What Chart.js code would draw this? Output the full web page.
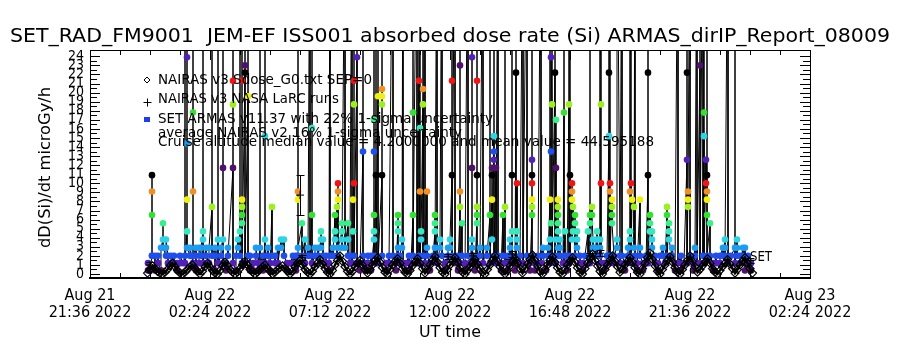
<!DOCTYPE html>
<html>
<head>
<meta charset="utf-8">
<script src="https://cdn.jsdelivr.net/npm/chart.js@4/dist/chart.umd.min.js"></script>
<style>
  html, body { margin: 0; padding: 0; background: #fff; }
  #wrap { width: 900px; height: 350px; }
</style>
</head>
<body>
<div id="wrap"><canvas id="doseChart" width="900" height="350"></canvas></div>
<script>
"use strict";

var TITLE = "SET_RAD_FM9001  JEM-EF ISS001 absorbed dose rate (Si) ARMAS_dirIP_Report_08009";
var Y_TITLE = "dD(Si)/dt microGy/h";
var X_TITLE = "UT time";
var legendLines = [
    "NAIRAS v3 Sdose_G0.txt SEP=0",
    "NAIRAS v3 NASA LaRC runs",
    "SET ARMAS v11.37 with 22% 1-sigma uncertainty",
    "average NAIRAS v2 16% 1-sigma uncertainty",
    "Cruise altitude median value = 4.2000000 and mean value = 44.595188"
];
var endLabel = "SET";

// time axis: hours from Aug 22 00:00 UT
var xTickHours = [-2.4, 2.4, 7.2, 12, 16.8, 21.6, 26.4];
var xTickLabels = [
    ["Aug 21", "21:36 2022"],
    ["Aug 22", "02:24 2022"],
    ["Aug 22", "07:12 2022"],
    ["Aug 22", "12:00 2022"],
    ["Aug 22", "16:48 2022"],
    ["Aug 22", "21:36 2022"],
    ["Aug 23", "02:24 2022"]
];
var yTickValues = [0, 1, 2, 3, 4, 5, 6, 7, 8, 9, 10, 11, 12, 13, 14, 15, 16, 17, 18, 19, 20, 21, 22, 23, 24];

// NAIRAS v3 model, one value every 6 minutes
var nairasStart = -0.1;
var nairasStep = 0.1;
var nairasDose = [
    0.1, 0.5, 0.9, 0.6, 0.3, 0.1, 0.0, 0.2, 0.5, 0.9, 1.2, 0.8, 0.4, 0.1, 0.0, 0.2, 0.5, 0.8, 1.0, 0.6,
    0.3, 0.0, 0.3, 0.8, 1.2, 0.8, 0.4, 0.1, 0.0, 0.4, 0.9, 1.3, 0.9, 0.5, 0.2, 0.0, 0.2, 0.6, 1.0, 1.4,
    1.0, 0.5, 0.2, 0.0, 0.2, 0.5, 0.8, 1.0, 0.6, 0.3, 0.0, 0.2, 0.5, 0.7, 0.9, 0.6, 0.3, 0.0, 0.3, 0.8,
    1.2, 1.5, 1.0, 0.5, 0.2, 0.0, 0.3, 0.8, 1.2, 1.6, 1.1, 0.6, 0.2, 0.0, 0.4, 1.0, 1.5, 2.0, 1.4, 0.8,
    0.3, 0.0, 0.3, 0.8, 1.2, 1.5, 1.0, 0.5, 0.1, 0.5, 1.0, 1.5, 1.8, 1.3, 0.7, 0.2, 0.0, 0.5, 1.0, 1.4,
    1.7, 1.2, 0.6, 0.2, 0.0, 0.4, 0.9, 1.3, 1.7, 1.2, 0.6, 0.1, 0.5, 1.0, 1.5, 1.9, 1.3, 0.7, 0.2, 0.0,
    0.5, 1.0, 1.4, 1.8, 1.3, 0.7, 0.2, 0.0, 0.4, 0.8, 1.2, 1.6, 1.1, 0.6, 0.2, 0.0, 0.5, 1.0, 1.5, 2.0,
    1.4, 0.8, 0.3, 0.0, 0.4, 0.9, 1.3, 1.7, 1.2, 0.6, 0.1, 0.6, 1.1, 1.6, 2.1, 1.5, 0.9, 0.3, 0.0, 0.5,
    1.0, 1.5, 1.9, 1.3, 0.7, 0.2, 0.0, 0.5, 1.0, 1.4, 1.8, 1.3, 0.7, 0.2, 0.0, 0.6, 1.2, 1.7, 2.2, 1.5,
    0.9, 0.3, 0.0, 0.5, 1.0, 1.5, 2.0, 1.4, 0.8, 0.2, 0.5, 1.0, 1.4, 1.8, 1.3, 0.7, 0.2, 0.0, 0.6, 1.2,
    1.8, 2.3, 1.6, 0.9, 0.3, 0.0, 0.5, 1.0, 1.5, 1.9, 1.3, 0.7, 0.2, 0.0, 0.5, 1.0, 1.5, 2.0, 1.4, 0.8,
    0.2, 0.5, 0.9, 1.3, 1.7, 1.2, 0.6, 0.2, 0.0, 0.4, 0.8, 1.2, 1.6, 1.1, 0.6, 0.1, 0.5, 1.0, 1.4, 1.8,
    1.2, 0.6, 0.1
];

// NAIRAS v3 NASA LaRC runs
var larcHours = [0.0, 3.72, 6.0, 6.08, 11.92, 12.92, 14.48, 17.6, 18.0, 24.0];
var larcDose = [1.0, 1.1, 8.7, 1.8, 1.9, 2.0, 2.2, 2.0, 2.3, 1.5];
var larcSigma = [0.3, 0.3, 2.2, 0.3, 0.3, 0.3, 0.3, 0.3, 0.3, 0.3];

// SET ARMAS readings: [hour, consecutive dose rates at that time ...]
var armasColumns = [
    [-0.08, 0.4, 1.2], [0, 0.4], [0.08, 2.0, 10.9, 9.1, 6.5, 2.0], [0.2, 2.0, 0.4], [0.32, 2.0, 1.2],
    [0.44, 0.4, 2.9], [0.52, 3.8, 5.6, 2.9], [0.64, 2.0, 2.9, 3.8], [0.72, 2.0, 1.2], [0.84, 1.2, 2.0],
    [0.96, 2.0, 1.2], [1.08, 1.2, 0.4], [1.2, 1.2, 2.0], [1.32, 1.2], [1.4, 2.0, 45, 1.2],
    [1.48, 4.7, 8.2, 14.4, 23.9, 45, 2.9], [1.6, 2.0, 2.9], [1.72, 1.2, 17.8, 45, 9.1, 2.0], [1.84, 2.9, 2.0, 0.4],
    [1.96, 1.2, 2.9], [2.04, 2.0, 2.9], [2.12, 4.7, 3.8, 45, 1.2], [2.24, 2.9, 2.0], [2.36, 1.2, 2.9],
    [2.48, 7.4, 45, 2.0], [2.6, 2.9, 2.0, 0.4], [2.72, 3.8, 45, 1.2], [2.84, 2.0, 2.9], [2.92, 3.8, 11.7, 45, 1.2],
    [3.04, 1.2, 0.4], [3.12, 2.9, 2.0], [3.32, 11.7, 21.3, 18.7, 45, 1.2], [3.44, 0.4, 2.0],
    [3.52, 3.8, 2.9], [3.6, 4.7, 45, 2.0], [3.68, 5.6, 6.5, 7.4, 8.2, 21.3, 45, 1.2], [3.8, 22.2, 23.0, 45, 1.2],
    [3.92, 19.6, 45, 2.0], [4.0, 2.0, 0.4], [4.12, 1.2, 0.4], [4.24, 2.0, 2.9], [4.32, 0.4, 1.2],
    [4.4, 2.9, 45, 1.2], [4.52, 2.0, 0.4], [4.6, 3.8, 15.2, 45, 1.2], [4.72, 2.9, 2.0], [4.8, 1.2, 0.4],
    [4.88, 7.4, 2.0], [5.0, 2.0, 1.2], [5.12, 2.9, 1.2], [5.24, 3.8, 2.9], [5.36, 3.8, 2.0], [5.48, 1.2, 0.4],
    [5.6, 1.2], [5.72, 2.0, 1.2], [5.84, 2.0, 0.4], [5.92, 2.0, 8.2, 9.1, 45, 2.9], [6.08, 5.6, 2.0],
    [6.2, 3.8, 1.2], [6.32, 2.9, 2.0], [6.4, 45, 2.0], [6.48, 6.5, 16.1, 45, 1.2], [6.6, 2.0, 2.9],
    [6.72, 2.9, 2.0], [6.84, 3.8, 4.7, 2.9], [6.92, 3.8, 2.0], [7.04, 2.0, 1.2], [7.16, 1.2, 0.4],
    [7.2, 45, 2.0], [7.32, 2.9, 2.0], [7.4, 6.5, 4.7, 3.8], [7.48, 7.4, 2.0], [7.52, 8.2, 9.1, 10.0, 2.9],
    [7.68, 4.7, 5.6, 3.8, 2.9], [7.8, 45, 2.9], [7.92, 5.6, 3.8, 2.0], [8.0, 1.2, 2.0], [8.08, 45, 1.2],
    [8.12, 4.7, 8.2], [8.16, 10.0, 18.7, 21.3, 45, 2.0], [8.28, 23.9, 45, 1.2], [8.4, 1.2, 0.4],
    [8.52, 13.5, 45, 2.0], [8.64, 1.2, 0.4], [8.72, 1.2, 2.0], [8.84, 2.0, 0.4],
    [8.96, 3.8, 6.5, 4.7, 17.0, 13.5, 45, 2.0], [9.04, 10.9, 45, 1.2], [9.12, 19.6, 45, 1.2],
    [9.28, 10.9, 20.4, 19.6, 18.7, 45, 2.0], [9.44, 1.2, 0.4], [9.56, 2.0, 1.2], [9.72, 45, 2.0],
    [9.84, 1.2, 0.4], [9.92, 5.6, 6.5, 4.7, 2.9, 2.0], [10.0, 1.2, 2.0], [10.08, 3.8, 2.9], [10.12, 45, 1.2],
    [10.24, 0.4, 1.2], [10.36, 2.0, 0.4], [10.44, 1.2], [10.52, 6.5, 17.8, 45, 2.0], [10.68, 45, 1.2],
    [10.76, 21.3, 45, 2.0], [10.8, 9.1, 16.1, 45, 1.2], [10.84, 4.7, 3.8], [10.92, 18.7, 20.4, 45, 2.0],
    [11.0, 45, 1.2], [11.08, 9.1, 2.9, 2.0], [11.2, 1.2, 0.4], [11.32, 2.0], [11.4, 4.7, 5.6, 6.5, 2.9, 2.0],
    [11.48, 45, 1.2], [11.6, 2.9, 3.8], [11.68, 45, 2.0], [11.8, 1.2, 0.4], [11.92, 2.0, 2.9], [12.0, 2.9, 3.8],
    [12.08, 10.9, 21.3, 45, 2.0], [12.2, 45, 1.2], [12.32, 2.0, 0.4], [12.4, 7.4, 9.1, 23.0, 45, 1.2],
    [12.48, 5.6, 2.0], [12.6, 1.2, 0.4], [12.72, 45, 2.0], [12.8, 1.2], [12.88, 3.8, 2.9, 11.7, 23.9, 45, 1.2],
    [13.0, 2.0, 0.4], [13.08, 6.5, 5.6, 7.4, 10.9, 21.3, 45, 1.2], [13.2, 2.9, 2.0], [13.32, 45, 1.2],
    [13.48, 2.9, 2.0], [13.6, 6.5, 45, 1.2], [13.68, 8.2, 10.9, 11.7, 3.8], [13.76, 15.2, 13.5, 12.6, 45, 2.0],
    [13.84, 11.7, 1.2], [13.92, 45, 2.0], [14.04, 1.2, 0.4], [14.12, 6.5, 2.0], [14.2, 7.4, 45, 1.2],
    [14.32, 2.0, 0.4], [14.4, 2.9, 3.8, 1.2], [14.48, 4.7, 10.9, 45, 2.0], [14.6, 1.2, 0.4], [14.64, 22.2, 45, 1.2],
    [14.68, 10.0, 4.7, 3.8, 2.9], [14.8, 2.0, 1.2], [14.92, 45, 1.2], [15.08, 45, 2.0], [15.2, 1.2, 0.4],
    [15.28, 6.5, 7.4, 8.2, 10.0, 10.9, 12.6, 45, 2.0], [15.4, 1.2, 0.4], [15.52, 2.0, 1.2], [15.64, 45, 1.2],
    [15.72, 2.9, 2.0], [15.84, 0.4], [15.92, 2.9, 2.0], [16.0, 8.2, 3.8, 45, 1.2], [16.04, 5.6, 13.5, 23.9],
    [16.08, 18.7, 45, 2.0], [16.2, 22.2, 45, 1.2], [16.24, 11.7, 17.0, 3.8], [16.32, 5.6, 6.5, 8.2, 7.4, 4.7, 2.9, 2.0],
    [16.4, 2.9, 3.8, 2.0], [16.52, 1.2], [16.56, 17.8, 45, 1.2], [16.6, 4.7, 2.0], [16.68, 1.2, 0.4],
    [16.76, 18.7, 45, 1.2], [16.8, 10.9, 45, 2.0], [16.88, 8.2, 9.1, 10.0, 3.8], [16.92, 7.4, 4.7],
    [17.0, 5.6, 6.5, 2.0], [17.08, 3.8, 4.7, 2.9], [17.2, 2.0, 1.2], [17.32, 0.4, 1.2], [17.4, 2.0],
    [17.52, 4.7, 2.0], [17.6, 6.5, 5.6, 45, 1.2], [17.68, 7.4, 6.5], [17.72, 3.8, 2.9], [17.8, 2.9, 2.0],
    [17.88, 4.7, 3.8, 2.0], [18.0, 3.8, 2.9, 45, 2.0], [18.04, 10.0, 18.7, 45, 1.2], [18.16, 1.2, 0.4],
    [18.28, 2.0], [18.36, 15.2, 22.2, 45, 1.2], [18.4, 9.1, 10.0, 45, 2.0], [18.48, 8.2, 7.4, 6.5, 5.6],
    [18.56, 2.0, 1.2], [18.68, 3.8, 2.9, 45], [18.8, 2.0, 1.2], [18.88, 45, 2.0], [19.0, 1.2, 0.4],
    [19.12, 2.0, 2.9], [19.2, 4.7, 3.8, 9.1, 45, 2.0], [19.24, 10.0, 45, 1.2], [19.28, 8.2], [19.36, 7.4, 2.9],
    [19.4, 45, 2.0], [19.48, 1.2, 0.4], [19.6, 8.2, 2.9, 2.0], [19.72, 1.2, 0.4], [19.84, 2.0, 1.2],
    [19.92, 10.9, 22.2, 45, 1.2], [20.0, 6.5, 5.6, 4.7], [20.08, 3.8, 4.7, 2.9], [20.2, 2.0, 1.2],
    [20.32, 1.2, 0.4], [20.4, 2.0], [20.52, 2.9, 2.0], [20.6, 1.2], [20.68, 6.5, 7.4, 2.0], [20.76, 5.6, 4.7, 3.8],
    [20.88, 2.0, 2.9], [21.0, 1.2, 0.4], [21.12, 45, 1.2], [21.24, 2.0, 0.4], [21.36, 1.2],
    [21.48, 12.6, 22.2, 45, 1.2], [21.52, 9.1, 8.2, 7.4], [21.6, 45, 2.0], [21.72, 1.2, 0.4], [21.8, 2.9, 2.0],
    [21.88, 45, 1.2], [22.0, 23.0, 45, 1.2], [22.12, 45, 2.0], [22.16, 15.2, 17.8, 45, 1.2], [22.24, 12.6, 10.0],
    [22.28, 10.9, 9.1, 8.2, 6.5, 45, 2.0], [22.4, 5.6, 2.0], [22.52, 1.2, 0.4], [22.64, 2.0, 1.2],
    [22.8, 1.2, 2.0], [22.92, 2.9, 2.0], [23.0, 3.8, 2.9, 2.0], [23.12, 45, 1.2], [23.24, 2.0],
    [23.4, 2.9, 45, 1.2], [23.48, 3.8, 2.9, 2.0], [23.6, 2.0, 1.2], [23.72, 2.9, 2.0], [23.8, 2.9, 0.4],
    [23.92, 2.0, 1.2], [24.04, 1.2, 0.4]
];

// colour table, repeats every 13 count levels
var levelColors = [
    "#50106e", "#5020b8", "#1e4ef0", "#1c9cf2", "#2cd4e4", "#3ae8c0", "#38f088",
    "#34e034", "#9cf020", "#f0f010", "#f09024", "#f01414", "#000000"
];

var FONT = "'DejaVu Sans Condensed', 'DejaVu Sans', sans-serif";

function levelColor(v) {
    var k = Math.round((v - 0.4) / 0.87);
    return levelColors[((k % 13) + 13) % 13];
}

var armasPoints = [];
armasColumns.forEach(function (col) {
    for (var i = 1; i < col.length; i++) {
        armasPoints.push({ x: col[0], y: col[i] });
    }
});

var nairasPoints = nairasDose.map(function (v, i) {
    return { x: nairasStart + i * nairasStep, y: v };
});

var larcPoints = larcHours.map(function (h, i) {
    return { x: h, y: larcDose[i] };
});

function fitText(ctx, text, x, y, width) {
    var w = ctx.measureText(text).width;
    ctx.save();
    ctx.translate(x, y);
    ctx.scale(width / w, 1);
    ctx.textAlign = "left";
    ctx.fillText(text, 0, 0);
    ctx.restore();
}

var decorPlugin = {
    id: "decor",
    afterDatasetsDraw: function (chart) {
        var ctx = chart.ctx;
        var xs = chart.scales.x, ys = chart.scales.y;
        var area = chart.chartArea;

        // error bars on the LaRC runs
        ctx.save();
        ctx.beginPath();
        ctx.rect(area.left, area.top, area.right - area.left, area.bottom - area.top);
        ctx.clip();
        ctx.strokeStyle = "#000";
        ctx.lineWidth = 1;
        for (var i = 0; i < larcHours.length; i++) {
            var px = Math.round(xs.getPixelForValue(larcHours[i])) + 0.5;
            var top = Math.round(ys.getPixelForValue(larcDose[i] + larcSigma[i])) + 0.5;
            var bot = Math.round(ys.getPixelForValue(larcDose[i] - larcSigma[i])) + 0.5;
            ctx.beginPath();
            ctx.moveTo(px, top); ctx.lineTo(px, bot);
            ctx.moveTo(px - 4, top); ctx.lineTo(px + 4, top);
            ctx.moveTo(px - 4, bot); ctx.lineTo(px + 4, bot);
            ctx.stroke();
        }
        ctx.restore();
    },
    afterDraw: function (chart) {
        var ctx = chart.ctx;
        var xs = chart.scales.x, ys = chart.scales.y;
        var a = chart.chartArea;
        ctx.save();
        ctx.strokeStyle = "#000";
        ctx.lineWidth = 1;

        // box
        ctx.strokeRect(a.left + 0.5, a.top + 0.5, a.right - a.left, a.bottom - a.top);

        // inward ticks, left and right
        ctx.beginPath();
        for (var v = yTickValues[0]; v <= yTickValues[yTickValues.length - 1]; v += 0.5) {
            var py = Math.round(ys.getPixelForValue(v)) + 0.5;
            var len = (v % 1 === 0) ? 10 : 7;
            ctx.moveTo(a.left, py); ctx.lineTo(a.left + len, py);
            ctx.moveTo(a.right, py); ctx.lineTo(a.right - len, py);
        }
        // inward ticks, bottom and top
        for (var h = xTickHours[0]; h <= xTickHours[xTickHours.length - 1] + 0.01; h += 1.2) {
            var px = Math.round(xs.getPixelForValue(h)) + 0.5;
            var major = xTickHours.some(function (t) { return Math.abs(t - h) < 0.01; });
            var tl = major ? 10 : 5;
            ctx.moveTo(px, a.bottom); ctx.lineTo(px, a.bottom - tl);
            ctx.moveTo(px, a.top); ctx.lineTo(px, a.top + tl);
        }
        ctx.stroke();

        ctx.fillStyle = "#000";
        ctx.textBaseline = "middle";

        // title
        ctx.font = "19px " + FONT;
        fitText(ctx, TITLE, 10, 37, 880);

        // axis titles
        ctx.font = "16px " + FONT;
        ctx.save();
        ctx.translate(46, 248);
        ctx.rotate(-Math.PI / 2);
        fitText(ctx, Y_TITLE, 0, 0, 161);
        ctx.restore();
        fitText(ctx, X_TITLE, 419, 333, 62);

        // legend
        ctx.font = "14px " + FONT;
        var legendY = [80, 99, 119, 133, 142];
        var legendW = [214, 181, 335, 304, 496];
        for (var i = 0; i < legendLines.length; i++) {
            fitText(ctx, legendLines[i], 158, legendY[i], legendW[i]);
        }
        // legend symbols
        ctx.beginPath();
        ctx.moveTo(147, 77); ctx.lineTo(150, 80); ctx.lineTo(147, 83); ctx.lineTo(144, 80); ctx.closePath();
        ctx.moveTo(143.5, 102.5); ctx.lineTo(151.5, 102.5);
        ctx.moveTo(147.5, 98.5); ctx.lineTo(147.5, 106.5);
        ctx.stroke();
        ctx.fillStyle = "#1e3cf0";
        ctx.fillRect(144, 117, 6, 5);

        // end label
        ctx.fillStyle = "#000";
        ctx.font = "14px " + FONT;
        fitText(ctx, endLabel, 750, 257, 22);
        ctx.restore();
    }
};

new Chart(document.getElementById("doseChart"), {
    type: "scatter",
    data: {
        datasets: [
            {
                label: "SET ARMAS",
                data: armasPoints,
                showLine: true,
                borderColor: "#000",
                borderWidth: 1,
                tension: 0,
                pointStyle: "circle",
                pointRadius: 3.3,
                pointBorderWidth: 0,
                pointBackgroundColor: function (c) { return c.raw ? levelColor(c.raw.y) : "#000"; },
                order: 2
            },
            {
                label: "NAIRAS v3 LaRC",
                data: larcPoints,
                showLine: false,
                pointStyle: "cross",
                pointRadius: 4,
                pointBorderWidth: 1,
                borderColor: "#000",
                backgroundColor: "#000",
                order: 1
            },
            {
                label: "NAIRAS v3 Sdose",
                data: nairasPoints,
                showLine: true,
                borderColor: "#000",
                borderWidth: 2.5,
                tension: 0,
                pointStyle: "rectRot",
                pointRadius: 4,
                pointBorderWidth: 1.2,
                pointBorderColor: "#000",
                pointBackgroundColor: "rgba(255,255,255,0)",
                order: 0
            }
        ]
    },
    options: {
        responsive: false,
        animation: false,
        events: [],
        layout: { padding: { left: 0, right: 90, top: 50, bottom: 0 } },
        plugins: { legend: { display: false }, tooltip: { enabled: false }, title: { display: false } },
        scales: {
            x: {
                type: "linear",
                position: "bottom",
                min: xTickHours[0],
                max: xTickHours[xTickHours.length - 1],
                grid: { display: false, drawTicks: false },
                border: { display: true, color: "#000", width: 2 },
                afterBuildTicks: function (s) { s.ticks = xTickHours.map(function (h) { return { value: h }; }); },
                afterFit: function (s) { s.height = 72; },
                ticks: {
                    autoSkip: false,
                    maxRotation: 0,
                    padding: 9,
                    color: "#000",
                    font: { family: FONT, size: 16, lineHeight: 1.06 },
                    callback: function (val, idx) { return xTickLabels[idx]; }
                }
            },
            y: {
                type: "linear",
                position: "left",
                min: -0.44,
                max: 24.7,
                grid: { display: false, drawTicks: false },
                border: { display: true, color: "#000", width: 1 },
                afterBuildTicks: function (s) { s.ticks = yTickValues.map(function (v) { return { value: v }; }); },
                afterFit: function (s) { s.width = 90; },
                ticks: {
                    autoSkip: false,
                    padding: 6,
                    color: "#000",
                    font: { family: FONT, size: 14 },
                    callback: function (val) { return String(val); }
                }
            }
        }
    },
    plugins: [decorPlugin]
});
</script>
</body>
</html>
